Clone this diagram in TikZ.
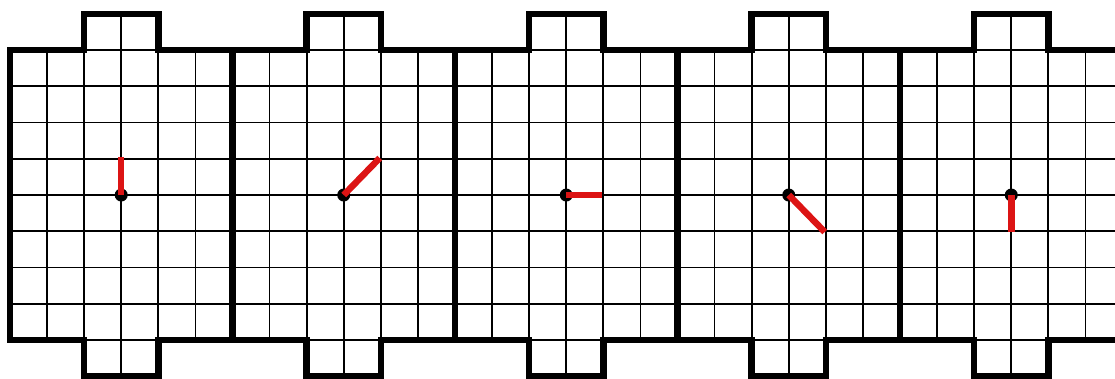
\documentclass[tikz,border=0pt]{standalone}
\usetikzlibrary{calc}
\begin{document}
\begin{tikzpicture}[x=1pt,y=-1pt,
  thinline/.style={line width=1.8pt,black},
  outline/.style={line width=6.5pt,black,line join=miter},
  hand/.style={line width=6.5pt,draw={rgb,255:red,220;green,20;blue,20},line cap=butt},
  pivot/.style={circle,fill=black,inner sep=0pt,minimum size=13pt}]
\useasboundingbox (0,0) rectangle (1115,378);
\clip (0,0) rectangle (1115,378);
\def\cw{37.08}
\def\rh{36.25}
\foreach \i/\dx/\dy in {0/0/-38, 1/36/-37, 2/36/0, 3/36/37, 4/0/37}{
  \pgfmathsetmacro\L{10+222.5*\i}
  \begin{scope}[xshift=\L]
    % thin grid
    \foreach \r in {1,...,7}
      \draw[thinline] (0,50+\r*\rh) -- (6*\cw,50+\r*\rh);
    \foreach \c in {1,2,4,5}
      \draw[thinline] (\c*\cw,50) -- (\c*\cw,340);
    \draw[thinline] (3*\cw,13.75) -- (3*\cw,376.25);
    \draw[thinline] (2*\cw,50) -- (4*\cw,50);
    \draw[thinline] (2*\cw,340) -- (4*\cw,340);
    % outline
    \draw[outline] (0,50) -- (2*\cw,50) -- (2*\cw,13.75) -- (4*\cw,13.75) -- (4*\cw,50)
      -- (6*\cw,50) -- (6*\cw,340) -- (4*\cw,340) -- (4*\cw,376.25) -- (2*\cw,376.25)
      -- (2*\cw,340) -- (0,340) -- cycle;
    % clock hand
    \node[pivot] (c\i) at (3*\cw,195) {};
    \coordinate (e\i) at ($(3*\cw,195)+(\dx,\dy)$);
    \draw[hand] (c\i.center) -- (e\i);
  \end{scope}
}
\end{tikzpicture}
\end{document}
